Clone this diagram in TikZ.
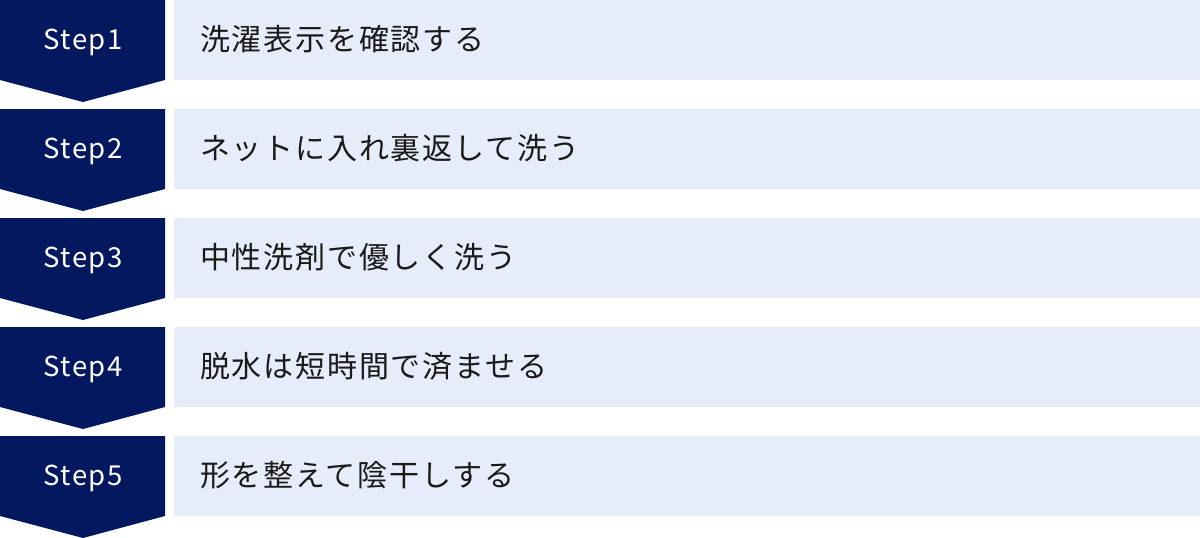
\documentclass[tikz,border=0pt]{standalone}
\usepackage{fontspec}
\setmainfont{Noto Sans CJK JP}
\newfontfamily\stepfont[LetterSpace=5]{Noto Sans CJK JP}
\newfontfamily\bodyfont[LetterSpace=6]{Noto Sans CJK JP}
\definecolor{navy}{HTML}{03185F}
\definecolor{pale}{HTML}{E6ECF9}
\definecolor{ink}{HTML}{1A1A1A}
\begin{document}
\begin{tikzpicture}[x=1pt,y=1pt,
  steptag/.style={fill=navy,draw=none},
  steplabel/.style={text=white,font=\stepfont\fontsize{27.5}{27.5}\selectfont,anchor=center,inner sep=0pt},
  bodybox/.style={fill=pale,draw=none,anchor=north west,minimum width=1026pt,minimum height=80pt,inner sep=0pt},
  bodytext/.style={text=ink,font=\bodyfont\fontsize{30}{30}\selectfont,anchor=west,inner sep=0pt}]
\useasboundingbox (0,0) rectangle (1200,-538);
\foreach \i/\t in {1/洗濯表示を確認する,2/ネットに入れ裏返して洗う,3/中性洗剤で優しく洗う,4/脱水は短時間で済ませる,5/形を整えて陰干しする}{
  \pgfmathsetmacro{\top}{-109*(\i-1)}
  \fill[steptag] (0,\top) -- (165,\top) -- (165,\top-80) -- (83,\top-102) -- (0,\top-80) -- cycle;
  \node[steplabel] (s\i) at (83,\top-42) {Step\i};
  \node[bodybox] (b\i) at (174,\top) {};
  \node[bodytext] (t\i) at (200,\top-39.5) {\t};
}
\end{tikzpicture}
\end{document}
